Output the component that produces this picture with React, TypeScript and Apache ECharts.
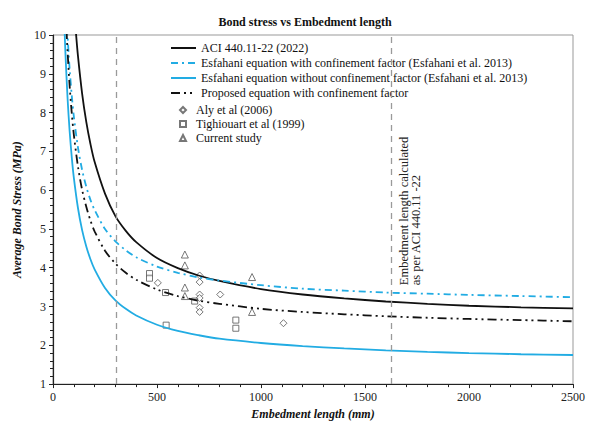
import React, { useEffect, useRef } from "react";
import * as echarts from "echarts";

// Curves (embedment length mm -> average bond stress MPa)
const aciX = [110, 120, 140, 160, 180, 200, 250, 300, 350, 400, 500, 600, 700, 800, 1000, 1200, 1400, 1600, 1800, 2000, 2250, 2500];
const aciY = [10.08, 9.46, 8.49, 7.76, 7.19, 6.73, 5.91, 5.33, 4.95, 4.66, 4.25, 3.99, 3.8, 3.66, 3.45, 3.31, 3.21, 3.13, 3.07, 3.02, 2.98, 2.95];

const esfConfX = [68, 75, 80, 90, 100, 120, 140, 160, 180, 200, 250, 300, 350, 400, 500, 600, 700, 800, 1000, 1200, 1400, 1600, 1800, 2000, 2250, 2500];
const esfConfY = [10.19, 9.53, 9.12, 8.45, 7.91, 7.1, 6.52, 6.09, 5.75, 5.49, 5.0, 4.68, 4.45, 4.27, 4.03, 3.87, 3.75, 3.67, 3.55, 3.46, 3.41, 3.36, 3.33, 3.3, 3.27, 3.24];

const esfNoX = [55, 60, 70, 80, 90, 100, 120, 140, 160, 180, 200, 250, 300, 350, 400, 500, 600, 700, 800, 1000, 1200, 1400, 1600, 1800, 2000, 2250, 2500];
const esfNoY = [10.22, 9.5, 8.37, 7.52, 6.86, 6.33, 5.54, 4.97, 4.55, 4.22, 3.96, 3.48, 3.16, 2.94, 2.77, 2.53, 2.37, 2.26, 2.17, 2.06, 1.98, 1.92, 1.87, 1.83, 1.8, 1.77, 1.75];

const propX = [65, 70, 80, 90, 100, 120, 140, 160, 180, 200, 250, 300, 350, 400, 500, 600, 700, 800, 1000, 1200, 1400, 1600, 1800, 2000, 2250, 2500];
const propY = [10.13, 9.58, 8.69, 8.0, 7.44, 6.61, 6.01, 5.57, 5.22, 4.94, 4.44, 4.11, 3.87, 3.69, 3.44, 3.27, 3.15, 3.07, 2.94, 2.86, 2.8, 2.75, 2.71, 2.68, 2.65, 2.62];

// Test data
const alyX = [504, 705, 705, 705, 705, 705, 705, 804, 1108];
const alyY = [3.61, 3.8, 3.63, 3.31, 3.22, 2.97, 2.86, 3.31, 2.57];
const tighX = [464, 464, 541, 544, 681, 879, 879];
const tighY = [3.85, 3.73, 3.36, 2.52, 3.14, 2.65, 2.44];
const currX = [634, 634, 634, 634, 957, 957];
const currY = [4.34, 4.06, 3.49, 3.27, 3.76, 2.86];

// Vertical reference lines (mm)
const refLines = [305, 1625];

const names = [
  "ACI 440.11-22 (2022)",
  "Esfahani equation with confinement factor (Esfahani et al. 2013)",
  "Esfahani equation without confinement factor (Esfahani et al. 2013)",
  "Proposed equation with confinement factor",
  "Aly et al (2006)",
  "Tighiouart et al (1999)",
  "Current study",
];

const zip = (xs: number[], ys: number[]) => xs.map((x, i) => [x, ys[i]]);

const FONT = "'Liberation Serif', 'Times New Roman', serif";
const BLUE = "#22ace3";

export default function App() {
  const ref = useRef<HTMLDivElement>(null);
  useEffect(() => {
    document.body.style.margin = "0";
    const chart = echarts.init(ref.current!, null, { renderer: "svg" });
    const scatterStyle = { color: "#ffffff", borderColor: "#555", borderWidth: 1 };
    const legendText = { fontFamily: FONT, fontSize: 12, color: "#111" };
    chart.setOption({
      animation: false,
      backgroundColor: "#fff",
      title: {
        text: "Bond stress vs Embedment length",
        left: 300,
        textAlign: "center",
        top: 11,
        textStyle: { fontFamily: FONT, fontSize: 12, fontWeight: "bold", color: "#111" },
      },
      grid: {
        left: 53,
        right: 16,
        top: 35,
        bottom: 40,
        show: true,
        borderColor: "#999",
        borderWidth: 1,
      },
      legend: [
        {
          orient: "vertical",
          left: 165,
          top: 37,
          itemWidth: 25,
          itemHeight: 8,
          itemGap: 3,
          textStyle: legendText,
          data: names.slice(0, 4).map((n) => ({ name: n, itemStyle: { opacity: 0 } })),
        },
        {
          orient: "vertical",
          left: 174,
          top: 99,
          itemWidth: 6,
          itemHeight: 6,
          itemGap: 2,
          textStyle: { ...legendText, padding: [0, 0, 0, 5] },
          data: [
            { name: names[4], icon: "diamond" },
            { name: names[5], icon: "rect" },
            { name: names[6], icon: "triangle" },
          ],
        },
      ],
      xAxis: {
        type: "value",
        min: 0,
        max: 2500,
        interval: 500,
        name: "Embedment length (mm)",
        nameLocation: "middle",
        nameGap: 21,
        nameTextStyle: { fontFamily: FONT, fontSize: 12, fontStyle: "italic", fontWeight: "bold", color: "#111" },
        axisLine: { lineStyle: { color: "#222", width: 1.2 } },
        axisTick: { show: true, length: 4, lineStyle: { color: "#222" } },
        minorTick: { show: true, splitNumber: 5, length: 3, lineStyle: { color: "#222" } },
        splitLine: { show: false },
        axisLabel: { fontFamily: FONT, fontSize: 12, color: "#222", margin: 7, formatter: (v: number) => String(v) },
      },
      yAxis: {
        type: "value",
        min: 1,
        max: 10,
        interval: 1,
        name: "Average Bond Stress (MPa)",
        nameLocation: "middle",
        nameGap: 22,
        nameRotate: 90,
        nameTextStyle: { fontFamily: FONT, fontSize: 12, fontStyle: "italic", fontWeight: "bold", color: "#111" },
        axisLine: { show: true, lineStyle: { color: "#222", width: 1.2 } },
        axisTick: { show: true, length: 4, lineStyle: { color: "#222" } },
        minorTick: { show: true, splitNumber: 5, length: 3, lineStyle: { color: "#222" } },
        splitLine: { show: false },
        axisLabel: { fontFamily: FONT, fontSize: 12, color: "#222", margin: 7 },
      },
      series: [
        {
          name: names[0],
          type: "line",
          data: zip(aciX, aciY),
          smooth: 0.3,
          symbol: "none",
          color: "#111",
          lineStyle: { color: "#111", width: 1.8 },
          markLine: {
            silent: true,
            symbol: ["none", "none"],
            label: { show: false },
            lineStyle: { color: "#9a9a9a", type: [6, 5], width: 1.3 },
            data: refLines.map((x) => ({ xAxis: x })),
          },
          z: 3,
        },
        {
          name: names[1],
          type: "line",
          data: zip(esfConfX, esfConfY),
          smooth: 0.3,
          symbol: "none",
          color: BLUE,
          lineStyle: { color: BLUE, width: 1.8, type: [7, 4, 2, 4] },
          z: 3,
        },
        {
          name: names[2],
          type: "line",
          data: zip(esfNoX, esfNoY),
          smooth: 0.3,
          symbol: "none",
          color: BLUE,
          lineStyle: { color: BLUE, width: 1.8 },
          z: 3,
        },
        {
          name: names[3],
          type: "line",
          data: zip(propX, propY),
          smooth: 0.3,
          symbol: "none",
          color: "#111",
          lineStyle: { color: "#111", width: 1.8, type: [9, 4, 2, 4, 2, 4] },
          z: 3,
        },
        {
          name: names[4],
          type: "scatter",
          data: zip(alyX, alyY),
          symbol: "diamond",
          symbolSize: 7,
          itemStyle: scatterStyle,
          z: 2,
        },
        {
          name: names[5],
          type: "scatter",
          data: zip(tighX, tighY),
          symbol: "rect",
          symbolSize: 6,
          itemStyle: scatterStyle,
          z: 2,
        },
        {
          name: names[6],
          type: "scatter",
          data: zip(currX, currY),
          symbol: "triangle",
          symbolSize: 7,
          itemStyle: scatterStyle,
          z: 2,
        },
      ],
    });

    const p = chart.convertToPixel({ xAxisIndex: 0, yAxisIndex: 0 }, [refLines[1], 3.55]) as number[];
    const annoStyle = { fontFamily: FONT, fontSize: 12.5, fill: "#222" };
    chart.setOption({
      graphic: [
        {
          type: "text",
          x: p[0] + 13,
          y: p[1],
          rotation: Math.PI / 2,
          style: { ...annoStyle, text: "Embedment length calculated", align: "left", verticalAlign: "middle" },
        },
        {
          type: "text",
          x: p[0] + 25,
          y: p[1],
          rotation: Math.PI / 2,
          style: { ...annoStyle, text: "as per ACI 440.11 -22", align: "left", verticalAlign: "middle" },
        },
      ],
    });

    return () => chart.dispose();
  }, []);
  return (
    <div
      ref={ref}
      style={{ position: "absolute", left: 0, top: 0, width: 589, height: 425 }}
    />
  );
}
